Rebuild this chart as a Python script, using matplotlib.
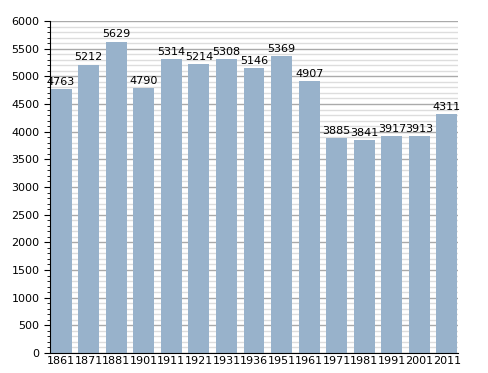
import matplotlib
matplotlib.use("Agg")
import matplotlib.pyplot as plt
from matplotlib.ticker import MultipleLocator

years = ["1861", "1871", "1881", "1901", "1911", "1921", "1931", "1936",
         "1951", "1961", "1971", "1981", "1991", "2001", "2011"]
population = [4763, 5212, 5629, 4790, 5314, 5214, 5308, 5146,
              5369, 4907, 3885, 3841, 3917, 3913, 4311]

fig = plt.figure(figsize=(4.88, 3.73), dpi=100)
ax = fig.add_axes([50/488, 20/373, 408/488, 332/373])

x = list(range(len(years)))
ax.set_axisbelow(True)
ax.yaxis.set_major_locator(MultipleLocator(500))
ax.yaxis.set_minor_locator(MultipleLocator(100))
ax.grid(which="major", axis="y", color="#aaaaaa", linewidth=1)
ax.grid(which="minor", axis="y", color="#dddddd", linewidth=1)
bars = ax.bar(x, population, width=0.76, color="#98b2cb")
for xi, v in zip(x, population):
    ax.text(xi, v + 40, str(v), ha="center", va="bottom", fontsize=8)

ax.set_xlim(-0.4, 14.4)
ax.set_ylim(0, 6000)
ax.set_xticks(x)
ax.set_xticklabels(years, fontsize=8)
ax.tick_params(axis="x", length=0, pad=2)
ax.tick_params(axis="y", which="major", labelsize=8, length=4, direction="out")
ax.tick_params(axis="y", which="minor", length=2, direction="out")
for s in ["top", "right"]:
    ax.spines[s].set_visible(False)
fig.savefig("out.png", dpi=100)
